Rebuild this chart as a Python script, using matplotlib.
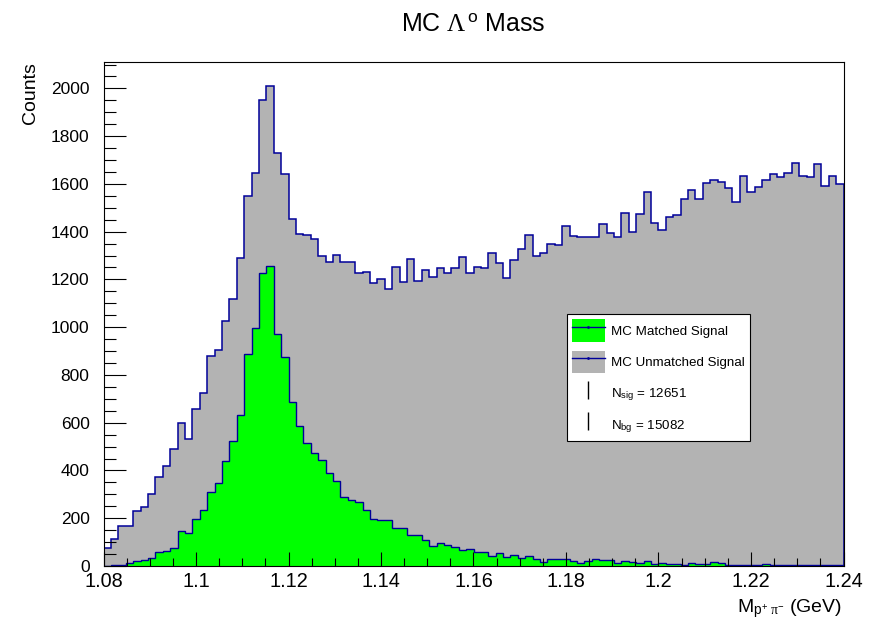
# MC Lambda mass: matched vs unmatched candidates, ROOT-style histogram
import numpy as np
import matplotlib
matplotlib.use("Agg")
import matplotlib.pyplot as plt
from matplotlib.patches import Patch
from matplotlib.lines import Line2D
from matplotlib.ticker import FixedLocator, MultipleLocator

plt.rcParams["font.family"] = "Liberation Sans"
plt.rcParams["mathtext.fontset"] = "custom"
plt.rcParams["mathtext.rm"] = "Liberation Serif"
plt.rcParams["mathtext.sf"] = "Liberation Sans"
plt.rcParams["mathtext.it"] = "Liberation Serif:italic"

# ── data ─────────────────────────────────────────────────────────────────
x_min, x_max, n_bins = 1.08, 1.24, 100

unmatched = [
    74, 113, 168, 168, 232, 248, 301, 371, 417, 489,
    597, 533, 657, 724, 881, 906, 1024, 1119, 1291, 1548,
    1646, 1951, 2010, 1730, 1641, 1453, 1389, 1386, 1370, 1298,
    1275, 1302, 1271, 1271, 1228, 1233, 1183, 1200, 1162, 1250,
    1189, 1286, 1193, 1239, 1212, 1247, 1229, 1246, 1293, 1226,
    1252, 1246, 1309, 1268, 1205, 1281, 1327, 1387, 1300, 1310,
    1348, 1344, 1422, 1380, 1376, 1376, 1376, 1432, 1394, 1379,
    1479, 1397, 1472, 1565, 1436, 1408, 1463, 1470, 1538, 1575,
    1538, 1605, 1617, 1608, 1582, 1524, 1633, 1566, 1588, 1618,
    1643, 1631, 1644, 1688, 1635, 1629, 1682, 1590, 1635, 1598,
]

matched = [
    2, 4, 6, 11, 20, 24, 34, 57, 64, 77,
    145, 140, 196, 235, 310, 347, 438, 524, 632, 888,
    997, 1225, 1256, 970, 875, 688, 587, 515, 475, 442,
    389, 358, 287, 277, 267, 235, 197, 192, 192, 161,
    161, 131, 131, 109, 83, 98, 89, 78, 67, 71,
    60, 60, 42, 55, 38, 48, 34, 43, 28, 17,
    31, 28, 28, 21, 14, 21, 28, 27, 25, 14,
    20, 17, 12, 22, 10, 12, 8, 8, 6, 11,
    8, 10, 17, 11, 5, 6, 5, 4, 6, 7,
    5, 3, 4, 6, 3, 3, 5, 3, 4, 3,
]

x_ticks = [1.08, 1.10, 1.12, 1.14, 1.16, 1.18, 1.20, 1.22, 1.24]
x_tick_labels = ["1.08", "1.1", "1.12", "1.14", "1.16", "1.18", "1.2", "1.22", "1.24"]
y_ticks = [0, 200, 400, 600, 800, 1000, 1200, 1400, 1600, 1800, 2000]
y_tick_labels = [str(v) for v in y_ticks]

n_sig = 12651
n_bg = 15082

# ── style ────────────────────────────────────────────────────────────────
c_gray  = "#b3b3b3"
c_green = "#00ff00"
c_blue  = "#000099"

W, H = 886, 621
fig = plt.figure(figsize=(W / 100, H / 100), dpi=100)
ax = fig.add_axes([103.5 / W, 55 / H, 740 / W, 504 / H])

edges = np.linspace(x_min, x_max, n_bins + 1)

ax.stairs(unmatched, edges, fill=True, color=c_gray, lw=0)
ax.stairs(unmatched, edges, color=c_blue, lw=1.1)
ax.stairs(matched, edges, fill=True, color=c_green, lw=0)
ax.stairs(matched, edges, color=c_blue, lw=1.0)

ax.set_xlim(x_min, x_max)
ax.set_ylim(0, max(unmatched) * 1.05)

ax.xaxis.set_major_locator(FixedLocator(x_ticks))
ax.set_xticklabels(x_tick_labels)
ax.xaxis.set_minor_locator(MultipleLocator(0.005))
ax.yaxis.set_major_locator(FixedLocator(y_ticks))
ax.set_yticklabels(y_tick_labels)
ax.yaxis.set_minor_locator(MultipleLocator(50))

ax.tick_params(axis="both", which="both", direction="in",
               top=False, right=False, width=0.8, color="black")
ax.tick_params(axis="x", which="major", length=10.3, labelsize=14.3, pad=4)
ax.tick_params(axis="x", which="minor", length=5.5)
ax.tick_params(axis="y", which="major", length=16, labelsize=12.5, pad=10)
ax.tick_params(axis="y", which="minor", length=8.4)
for s in ax.spines.values():
    s.set_linewidth(0.8)
    s.set_zorder(5)

# ── labels ───────────────────────────────────────────────────────────────
fig.text(473 / W, 1 - 31.7 / H, r"MC $\mathrm{\Lambda}^{\,\mathsf{o}}$ Mass",
         ha="center", va="baseline", fontsize=18)

ax.set_ylabel("Counts", fontsize=14, loc="top")
ax.yaxis.set_label_coords(-0.087, 1.0)

ax.set_xlabel(r"M$_{\mathsf{p}^{\mathsf{+}}\ \mathrm{\pi}^{\mathsf{-}}}$ (GeV)",
              fontsize=14, loc="right")
ax.xaxis.set_label_coords(1.0 - 1.8 / 740, -0.061)

# ── legend ───────────────────────────────────────────────────────────────
handles = [
    (Patch(facecolor=c_green, edgecolor="none"),
     Line2D([], [], color=c_blue, lw=1, marker=".", ms=2)),
    (Patch(facecolor=c_gray, edgecolor="none"),
     Line2D([], [], color=c_blue, lw=1, marker=".", ms=2)),
    Line2D([], [], color="black", marker="|", linestyle="none", ms=13, mew=1),
    Line2D([], [], color="black", marker="|", linestyle="none", ms=13, mew=1),
]
labels = [
    "MC Matched Signal",
    "MC Unmatched Signal",
    r"N$_{\mathsf{sig}}$ = %d" % n_sig,
    r"N$_{\mathsf{bg}}$ = %d" % n_bg,
]
leg = ax.legend(handles, labels, loc="upper left",
                bbox_to_anchor=(566.7 / W, 1 - 314.3 / H),
                bbox_transform=fig.transFigure,
                fontsize=9.6, handlelength=2.48, handleheight=2.21,
                handletextpad=0.45, labelspacing=0.67, borderpad=0.38,
                borderaxespad=0, fancybox=False, framealpha=1,
                edgecolor="black")
leg.get_frame().set_linewidth(0.8)

fig.savefig("out.png", dpi=100)
